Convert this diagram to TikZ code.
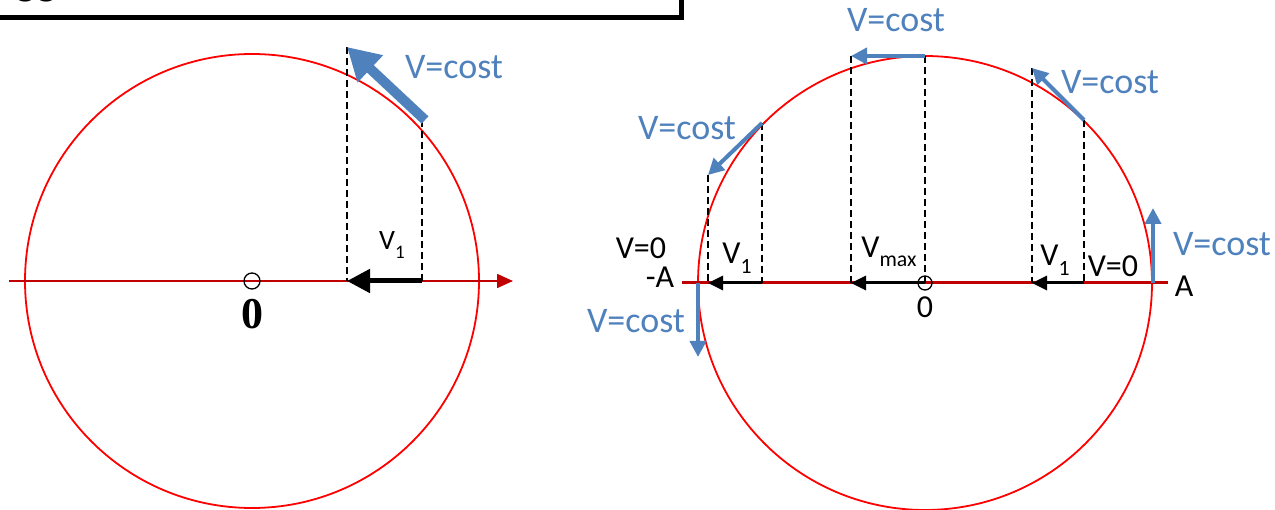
\documentclass[tikz,border=0pt]{standalone}
\usepackage{fontspec}
\usepackage{graphicx}
\setmainfont{Carlito}
\newfontfamily\tmsfont{Liberation Serif}
\usetikzlibrary{arrows.meta}
\definecolor{circred}{HTML}{FF0000}
\definecolor{axred}{HTML}{C00000}
\definecolor{vblue}{HTML}{4F81BD}
\newcommand{\sbs}[1]{\raisebox{-0.3em}{\scalebox{0.68}{#1}}}
\tikzset{
  circ/.style={draw=circred, line width=1.8pt},
  dashln/.style={draw=black, line width=1.3pt, dash pattern=on 7pt off 4pt},
  bluebig/.style={draw=vblue, line width=10pt, -{Triangle[length=32pt,width=35pt]}, fill=vblue},
  blkbig/.style={draw=black, line width=5pt, -{Triangle[length=23pt,width=23pt]}},
  bluesm/.style={draw=vblue, line width=4pt, -{Triangle[length=16pt,width=16pt]}},
  blksm/.style={draw=black, line width=3pt, -{Triangle[length=15pt,width=14pt]}},
  bluetxt/.style={text=vblue, font=\fontsize{36}{40}\selectfont, inner sep=0pt},
  blktxt/.style={text=black, font=\fontsize{32}{36}\selectfont, inner sep=0pt},
  ocirc/.style={draw=black, circle, line width=1.3pt, inner sep=0pt, minimum size=#1},
}
\begin{document}
\begin{tikzpicture}[x=1pt,y=-1pt]
\clip (0,0) rectangle (1275,510);
\useasboundingbox (0,0) rectangle (1275,510);
% top box (cut off)
\draw[line width=5pt] (-20,-30) rectangle (681.5,17.5);
\node[anchor=base west, inner sep=0pt, font=\fontsize{44}{48}\selectfont] (boxtxt) at (15,-5) {gg};

% ===== left diagram =====
\coordinate (L0) at (252,281);
\draw[circ] (L0) circle[radius=227];
\coordinate (LaxS) at (9,281);
\coordinate (LaxE) at (513,281);
\draw[draw=axred, line width=1.6pt, -{Triangle[length=16pt,width=14pt]}, fill=axred] (LaxS) -- (LaxE);
\node[ocirc=16pt] (Lo) at (L0) {};
\node[inner sep=0pt, font=\tmsfont\bfseries\fontsize{44}{48}\selectfont] (Lzero) at (252,314) {0};
\coordinate (LdA) at (347,47);
\coordinate (LdAb) at (347,281);
\coordinate (LdB) at (422,120);
\coordinate (LdBb) at (422,281);
\draw[dashln] (LdA) -- (LdAb);
\draw[dashln] (LdB) -- (LdBb);
\coordinate (LvT) at (425,120);
\draw[bluebig] (LvT) -- (LdA);
\draw[blkbig] (LdBb) -- (LdAb);
\node[blktxt, font=\fontsize{28}{32}\selectfont] (LV1) at (392,245) {V\sbs{1}};
\node[bluetxt] (Lcost) at (454,67) {V=cost};

% ===== right diagram =====
\coordinate (R0) at (925,283);
\draw[circ] (R0) circle[radius=227];
\coordinate (RaxS) at (682,283);
\coordinate (RaxE) at (1168,283);
\draw[draw=axred, line width=3pt] (RaxS) -- (RaxE);
\node[ocirc=14pt] (Ro) at (R0) {};

% top point
\coordinate (Ttail) at (925,56);
\coordinate (Ttip) at (851,56);
\coordinate (Ttailb) at (925,283);
\coordinate (Ttipb) at (851,283);
\draw[dashln] (Ttail) -- (Ttailb);
\draw[dashln] (Ttip) -- (Ttipb);
\draw[bluesm] (Ttail) -- (Ttip);
\draw[blksm] (Ttailb) -- (Ttipb);

% upper right point
\coordinate (URtail) at (1084,120);
\coordinate (URtip) at (1032,68);
\coordinate (URtailb) at (1084,283);
\coordinate (URtipb) at (1032,283);
\draw[dashln] (URtail) -- (URtailb);
\draw[dashln] (URtip) -- (URtipb);
\draw[bluesm] (URtail) -- (URtip);
\draw[blksm] (URtailb) -- (URtipb);

% upper left point
\coordinate (ULtail) at (762,123);
\coordinate (ULtip) at (708,175);
\coordinate (ULtailb) at (762,283);
\coordinate (ULtipb) at (708,283);
\draw[dashln] (ULtail) -- (ULtailb);
\draw[dashln] (ULtip) -- (ULtipb);
\draw[bluesm] (ULtail) -- (ULtip);
\draw[blksm] (ULtailb) -- (ULtipb);

% extremes
\coordinate (Abase) at (1153,283);
\coordinate (Atip) at (1153,208);
\draw[bluesm] (Abase) -- (Atip);
\coordinate (mAbase) at (698,283);
\coordinate (mAtip) at (698,357);
\draw[bluesm] (mAbase) -- (mAtip);

% labels
\node[bluetxt] (Tcost) at (896,20) {V=cost};
\node[bluetxt] (URcost) at (1110,82) {V=cost};
\node[bluetxt] (ULcost) at (687,128) {V=cost};
\node[bluetxt] (Acost) at (1222,244) {V=cost};
\node[bluetxt] (mAcost) at (636,321) {V=cost};
\node[blktxt] (V0l) at (641,248) {V=0};
\node[blktxt] (V0r) at (1113,266) {V=0};
\node[blktxt] (mA) at (660,277) {-A};
\node[blktxt] (Alab) at (1184,286) {A};
\node[blktxt] (Rzero) at (925,307) {0};
\node[blktxt] (Vmax) at (889,252) {V\sbs{max}};
\node[blktxt] (V1l) at (737,258) {V\sbs{1}};
\node[blktxt] (V1r) at (1055,260) {V\sbs{1}};
\end{tikzpicture}
\end{document}
